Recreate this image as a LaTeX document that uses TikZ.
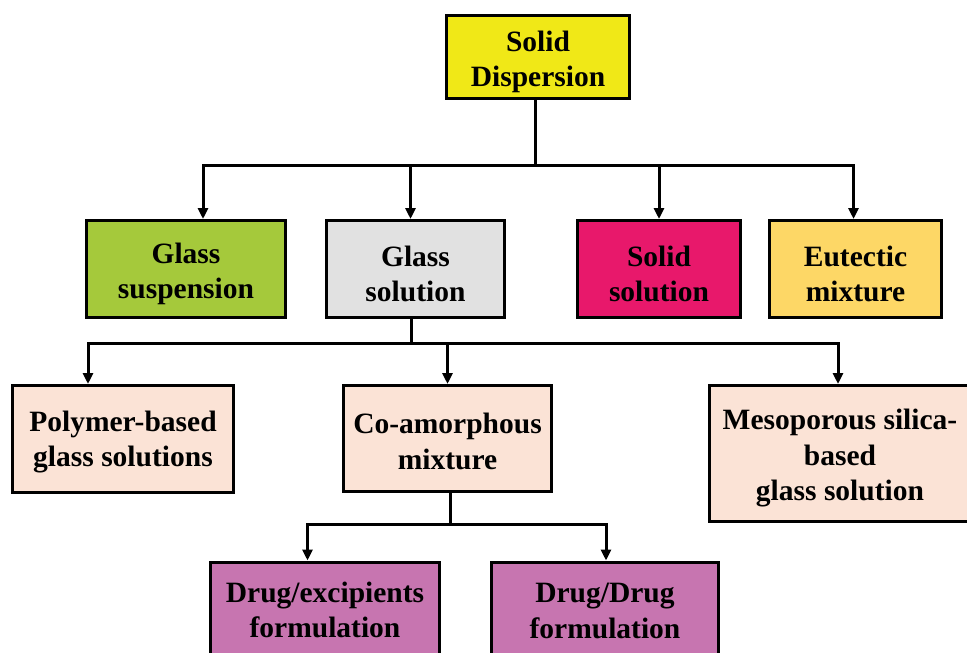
\documentclass[tikz,border=0pt]{standalone}
\usepackage{fontspec}
\setmainfont{Liberation Serif}
\usetikzlibrary{arrows.meta}
\definecolor{cyellow}{HTML}{F0E817}
\definecolor{cgreen}{HTML}{A5C93B}
\definecolor{cgrey}{HTML}{E1E1E1}
\definecolor{cpink}{HTML}{E8186B}
\definecolor{corange}{HTML}{FDD766}
\definecolor{cpeach}{HTML}{FBE3D6}
\definecolor{cpurple}{HTML}{C775B0}
\tikzset{
  box/.style={draw=black, line width=3pt, rectangle, inner sep=0pt},
  txt/.style={inner sep=0pt, align=center,
    font=\fontsize{29.5}{35.5}\selectfont\bfseries},
  conn/.style={draw=black, line width=3pt},
  arr/.style={conn, -{Triangle[length=11pt,width=10pt]}},
}
\begin{document}
\begin{tikzpicture}[x=1pt,y=-1pt]
\useasboundingbox (0,0) rectangle (967,653);
\clip (0,0) rectangle (967,653);
\fill[white] (0,0) rectangle (967,653);
% level 0
\node[box, fill=cyellow, minimum width=183pt, minimum height=83pt] (sd) at (538,57) {};
\node[txt] (sdt) at ([yshift=-5pt]sd.center) {Solid\\Dispersion};
% level 1
\node[box, fill=cgreen, minimum width=199pt, minimum height=97pt] (gsusp) at (186,269) {};
\node[txt] (gsuspt) at ([yshift=-5pt]gsusp.center) {Glass\\suspension};
\node[box, fill=cgrey, minimum width=178pt, minimum height=97pt] (gsol) at (415.5,269) {};
\node[txt] (gsolt) at ([yshift=-5pt]gsol.center) {Glass\\solution};
\node[box, fill=cpink, minimum width=163pt, minimum height=97pt] (ssol) at (659,269) {};
\node[txt] (ssolt) at ([yshift=-5pt]ssol.center) {Solid\\solution};
\node[box, fill=corange, minimum width=172pt, minimum height=97pt] (eut) at (855.5,269) {};
\node[txt] (eutt) at ([yshift=-5pt]eut.center) {Eutectic\\mixture};
% level 2
\node[box, fill=cpeach, minimum width=221pt, minimum height=107pt] (poly) at (123,439) {};
\node[txt] (polyt) at ([yshift=-3pt]poly.center) {Polymer-based\\glass solutions};
\node[box, fill=cpeach, minimum width=208pt, minimum height=106pt] (coam) at (447.5,438.5) {};
\node[txt] (coamt) at ([yshift=-3pt]coam.center) {Co-amorphous\\mixture};
\node[box, fill=cpeach, minimum width=261pt, minimum height=136pt] (meso) at (840,453.5) {};
\node[txt] (mesot) at ([yshift=-5pt]meso.center) {Mesoporous silica-\\based\\glass solution};
% level 3
\node[box, fill=cpurple, minimum width=229pt, minimum height=96pt] (dex) at (325,610) {};
\node[txt] (dext) at (dex.center) {Drug/excipients\\formulation};
\node[box, fill=cpurple, minimum width=227pt, minimum height=96pt] (dd) at (605,610) {};
\node[txt] (ddt) at ([yshift=-1pt]dd.center) {Drug/Drug\\formulation};
% connectors level 0 -> 1
\coordinate (j1) at ([xshift=-3pt]sd.south |- 0,165);
\draw[conn] ([xshift=-3pt]sd.south) -- (j1);
\draw[arr] (j1) -| ([xshift=17pt]gsusp.north);
\draw[arr] (j1) -| ([xshift=-5pt]gsol.north);
\draw[arr] (j1) -| (ssol.north);
\draw[arr] (j1) -| ([xshift=-2pt]eut.north);
% connectors glass solution -> level 2
\coordinate (j2) at ([xshift=-4.5pt]gsol.south |- 0,343);
\draw[conn] ([xshift=-4.5pt]gsol.south) -- (j2);
\draw[arr] (j2) -| ([xshift=-35pt]poly.north);
\draw[arr] (j2) -| (coam.north);
\draw[arr] (j2) -| ([xshift=-2pt]meso.north);
% connectors co-amorphous -> level 3
\coordinate (j3) at ([xshift=2.5pt]coam.south |- 0,524);
\draw[conn] ([xshift=2.5pt]coam.south) -- (j3);
\draw[arr] (j3) -| ([xshift=-17.5pt]dex.north);
\draw[arr] (j3) -| ([xshift=1pt]dd.north);
\end{tikzpicture}
\end{document}
